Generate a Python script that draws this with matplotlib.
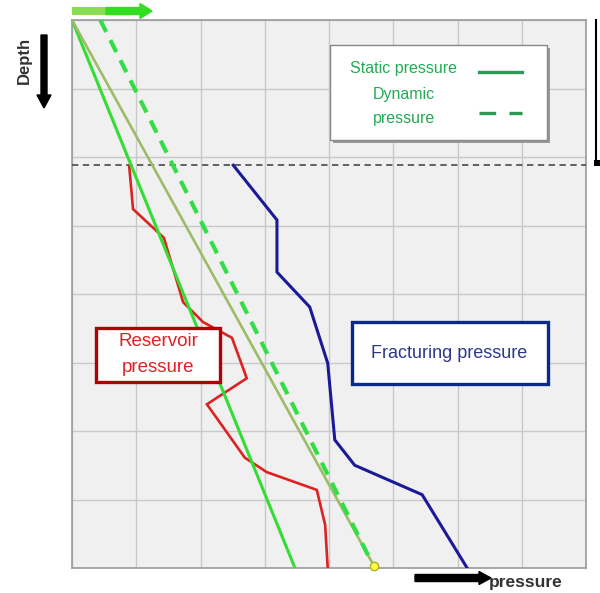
import matplotlib
matplotlib.use("Agg")
import matplotlib.pyplot as plt
from matplotlib.patches import Rectangle, FancyArrow
from matplotlib.lines import Line2D

plt.rcParams['font.family'] = ['Liberation Sans', 'DejaVu Sans']

# ---- data (pressure units vs depth units, depth increasing downward) ----
static_p = [0.0, 3.47]
static_d = [0.0, 8.0]

hydro_p = [0.0, 4.70]
hydro_d = [0.0, 7.97]

dynamic_p = [0.44, 4.67]
dynamic_d = [0.0, 7.93]

reservoir_p = [0.89, 0.95, 1.43, 1.73, 2.04, 2.49, 2.72, 2.10, 2.69, 3.03, 3.81, 3.94, 3.98]
reservoir_d = [2.13, 2.76, 3.18, 4.12, 4.41, 4.64, 5.23, 5.61, 6.39, 6.60, 6.86, 7.37, 8.0]

frac_p = [2.51, 3.19, 3.19, 3.70, 3.98, 4.09, 4.40, 5.45, 6.15]
frac_d = [2.12, 2.92, 3.68, 4.19, 5.01, 6.13, 6.50, 6.93, 8.0]

cap_depth = 2.12

fig = plt.figure(figsize=(6, 5.93), dpi=100)
fig.patch.set_facecolor('white')
ax = fig.add_axes([72/600, 1-568/593, 514/600, 548/593])
ax.set_facecolor('#f0f0f0')
ax.set_xlim(0, 8)
ax.set_ylim(8, 0)
ax.set_xticks(range(9))
ax.set_yticks(range(9))
ax.grid(True, color='#c8c8c8', lw=1.0)
ax.tick_params(length=0, labelbottom=False, labelleft=False)
for s in ax.spines.values():
    s.set_color('#9a9a9a')
    s.set_linewidth(1.2)
ax.set_axisbelow(True)

ax.axhline(cap_depth, color='#555555', lw=1.3, ls=(0, (3.5, 2.5)), zorder=3)

ax.plot(reservoir_p, reservoir_d, color='#dd2222', lw=1.9, zorder=4, solid_joinstyle='miter')
ax.plot(frac_p, frac_d, color='#1a1a99', lw=2.2, zorder=4, solid_joinstyle='miter')
ax.plot(static_p, static_d, color='#33dd33', lw=2.2, zorder=5)
ax.plot(hydro_p, hydro_d, color='#9cbc66', lw=1.9, zorder=5)
ax.plot(dynamic_p, dynamic_d, color='#33dd44', lw=3.0, ls=(0, (3.2, 2.2)), zorder=5)
ax.plot([hydro_p[-1]], [hydro_d[-1]], 'o', ms=6, mfc='#ffff44', mec='#b0b020', mew=1, zorder=6, clip_on=False)


def fx(px):
    return px / 600


def fy(py):
    return 1 - py / 593


# Legend box
shadow = Rectangle((fx(333), fy(143)), fx(547) - fx(330), fy(45) - fy(140),
                   transform=fig.transFigure, facecolor='#999999', edgecolor='none', zorder=6)
fig.patches.append(shadow)
lbox = Rectangle((fx(330), fy(140)), fx(547) - fx(330), fy(45) - fy(140),
                 transform=fig.transFigure, facecolor='white', edgecolor='#888888', lw=1.0, zorder=7)
fig.patches.append(lbox)
leg_col = '#22aa55'
fig.text(fx(404), fy(69), 'Static pressure', color=leg_col, fontsize=11.5, ha='center', va='center', zorder=8)
fig.text(fx(404), fy(94), 'Dynamic', color=leg_col, fontsize=11.5, ha='center', va='center', zorder=8)
fig.text(fx(404), fy(118), 'pressure', color=leg_col, fontsize=11.5, ha='center', va='center', zorder=8)
fig.lines.append(Line2D([fx(479), fx(522)], [fy(72), fy(72)], transform=fig.transFigure,
                        color='#2a9a55', lw=2.4, zorder=8))
fig.lines.append(Line2D([fx(479), fx(522)], [fy(113), fy(113)], transform=fig.transFigure,
                        color='#2a9a55', lw=2.4, ls=(0, (5, 4)), zorder=8))

# Reservoir pressure label box
rb = Rectangle((fx(96), fy(382)), fx(220) - fx(96), fy(328) - fy(382), transform=fig.transFigure,
               facecolor='white', edgecolor='#b00000', lw=2.4, zorder=7)
fig.patches.append(rb)
fig.text(fx(158), fy(342), 'Reservoir', color='#dd2222', fontsize=13.5, ha='center', va='center', zorder=8)
fig.text(fx(158), fy(368), 'pressure', color='#dd2222', fontsize=13.5, ha='center', va='center', zorder=8)

# Fracturing pressure label box
fb = Rectangle((fx(352), fy(384)), fx(548) - fx(352), fy(322) - fy(384), transform=fig.transFigure,
               facecolor='white', edgecolor='#0a2a8a', lw=2.4, zorder=7)
fig.patches.append(fb)
fig.text(fx(449), fy(354), 'Fracturing pressure', color='#2b3a8a', fontsize=13, ha='center', va='center', zorder=8)

# Top green arrow (gradient-like: two segments)
fig.patches.append(Rectangle((fx(72), fy(14.5)), fx(34), 7/593, transform=fig.transFigure,
                             facecolor='#88dd55', edgecolor='none', zorder=8))
fig.patches.append(FancyArrow(fx(106), fy(11), fx(34), 0, width=7/593, head_width=15/593, head_length=fx(12),
                              transform=fig.transFigure, color='#33dd22', zorder=8))

# Depth label and arrow
fig.text(fx(24), fy(60), 'Depth', rotation=90, fontsize=12, fontweight='bold', color='#333333',
         ha='center', va='center')
fig.patches.append(FancyArrow(fx(44), fy(35), 0, -(60/593), width=fx(6), head_width=fx(14), head_length=13/593,
                              transform=fig.transFigure, color='black'))

# Right-side black line
fig.lines.append(Line2D([fx(596), fx(596)], [fy(20), fy(160)], transform=fig.transFigure,
                        color='black', lw=1.5))
fig.patches.append(Rectangle((fx(594), fy(166)), fx(6), 6/593, transform=fig.transFigure,
                             facecolor='black', edgecolor='none'))

# Pressure arrow and label
fig.patches.append(FancyArrow(fx(415), fy(578), fx(64), 0, width=7/593, head_width=13/593, head_length=fx(12),
                              transform=fig.transFigure, color='black'))
fig.text(fx(489), fy(583), 'pressure', fontsize=12.5, fontweight='bold', color='#333333',
         ha='left', va='center')

fig.savefig('out.png', dpi=100)
